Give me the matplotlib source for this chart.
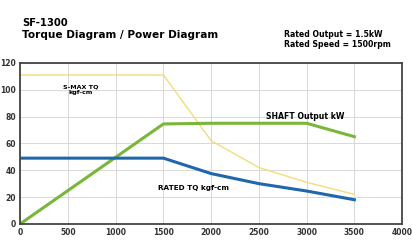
import matplotlib.pyplot as plt

# speed (rpm) and curve values
speed = [0, 1500, 2000, 2500, 3000, 3500]
max_torque = [111, 111, 62, 42, 31, 22]
shaft_output = [0, 74.5, 75, 75, 75, 65]
rated_torque = [49, 49, 37.5, 30, 24.5, 18]

x_ticks = [0, 500, 1000, 1500, 2000, 2500, 3000, 3500, 4000]
y_ticks = [0, 20, 40, 60, 80, 100, 120]

fig = plt.figure(figsize=(4.12, 2.41), dpi=100)
ax = fig.add_axes([0.049, 0.071, 0.927, 0.668])

ax.plot(speed, max_torque, color='#f3dc7c', lw=1.0)
ax.plot(speed, shaft_output, color='#79b63a', lw=2.2)
ax.plot(speed, rated_torque, color='#1f67ad', lw=2.2)

ax.set_xlim(0, 4000)
ax.set_ylim(0, 120)
ax.set_xticks(x_ticks)
ax.set_yticks(y_ticks)
ax.grid(True, color='#d8d8d8', lw=0.7)
for s in ax.spines.values():
    s.set_color('#444444')
    s.set_linewidth(1.3)
ax.tick_params(length=0, labelsize=5.5, pad=3)
for label in ax.get_xticklabels() + ax.get_yticklabels():
    label.set_fontweight('bold')
    label.set_color('#333333')

ax.text(630, 100, 'S-MAX TQ\nkgf-cm', fontsize=4.6, fontweight='bold',
        ha='center', va='center', linespacing=1.3)
ax.text(2980, 80, 'SHAFT Output kW', fontsize=5.6, fontweight='bold',
        ha='center', va='center')
ax.text(1820, 27, 'RATED TQ kgf-cm', fontsize=5.2, fontweight='bold',
        ha='center', va='center')

fig.text(0.053, 0.905, 'SF-1300', fontsize=7.2, fontweight='bold', va='center')
fig.text(0.053, 0.855, 'Torque Diagram / Power Diagram', fontsize=7.6,
         fontweight='bold', va='center')
fig.text(0.69, 0.855, 'Rated Output = 1.5kW', fontsize=5.6, fontweight='bold', va='center')
fig.text(0.69, 0.815, 'Rated Speed = 1500rpm', fontsize=5.6, fontweight='bold', va='center')

fig.savefig('out.png', dpi=100)
